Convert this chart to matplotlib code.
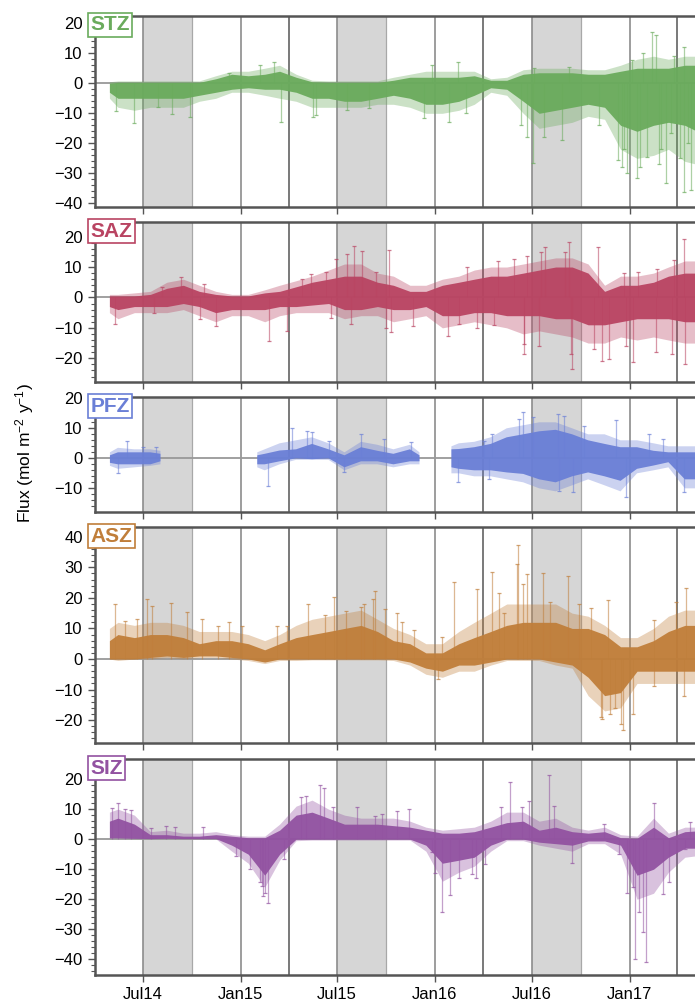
import matplotlib
matplotlib.use('Agg')
import matplotlib.pyplot as plt
import matplotlib.dates as mdates
from matplotlib.ticker import MultipleLocator
import numpy as np

plt.rcParams['font.family'] = ['Liberation Sans', 'DejaVu Sans']
plt.rcParams['mathtext.default'] = 'regular'

# shared monthly grid (mid-month), data start/end at the ends
months = ['2014-04-29', '2014-05-15', '2014-06-15', '2014-07-15', '2014-08-15', '2014-09-15',
          '2014-10-15', '2014-11-15', '2014-12-15', '2015-01-15', '2015-02-15', '2015-03-15',
          '2015-04-15', '2015-05-15', '2015-06-15', '2015-07-15', '2015-08-15', '2015-09-15',
          '2015-10-15', '2015-11-15', '2015-12-15', '2016-01-15', '2016-02-15', '2016-03-15',
          '2016-04-15', '2016-05-15', '2016-06-15', '2016-07-15', '2016-08-15', '2016-09-15',
          '2016-10-15', '2016-11-15', '2016-12-15', '2017-01-15', '2017-02-15', '2017-03-15',
          '2017-04-15', '2017-05-31']

# ---- STZ ----  core band (dense), outer band (sparser), and single spikes
stz_lo = [-3, -5, -5, -5, -5, -5, -4, -3, -2, -1.5, -2, -2, -3, -5, -5, -6, -6, -5, -4, -5,
          -7, -7, -6, -4, -1.5, -2, -6, -10, -9, -8, -7, -8, -14, -16, -14, -13, -14, -18]
stz_hi = [0, 0.3, 0.3, 0.3, 0.3, 0.3, 0.3, 1.5, 3, 2.5, 3, 4, 2, 0.5, 0.3, 0.3, 0.3, 0.3, 1, 2,
          2, 2, 2, 2.5, 1, 1, 3, 3.5, 3.5, 3.5, 3, 3, 4, 5, 5, 5, 6, 6]
stz_out_lo = [-5, -8, -9, -8, -8, -8, -6, -5, -3, -3, -4, -5, -6, -8, -8, -8, -8, -7, -7, -8,
              -10, -10, -9, -7, -3, -4, -10, -15, -14, -13, -11, -12, -22, -25, -24, -22, -26, -28]
stz_out_hi = [0.5, 0.8, 0.8, 0.8, 0.8, 0.8, 0.8, 2.5, 4, 4, 5, 6, 3, 1, 0.8, 0.8, 0.8, 0.8, 2, 3,
              4, 4, 4, 4, 1.5, 2, 4.5, 5, 5, 5, 4.5, 4.5, 6, 8, 9, 8, 9, 9]
stz_sp_dates = ['2014-05-12', '2014-06-15', '2014-07-29', '2014-08-24', '2014-09-28', '2014-12-10',
                '2015-02-07', '2015-03-04', '2015-03-18', '2015-05-16', '2015-05-23', '2015-07-20',
                '2015-08-30', '2015-12-12', '2015-12-27', '2016-01-27', '2016-02-13', '2016-02-28',
                '2016-06-11', '2016-06-23', '2016-07-03', '2016-07-05', '2016-07-25', '2016-08-27',
                '2016-09-10', '2016-11-05', '2016-12-10', '2016-12-18', '2016-12-22', '2016-12-28',
                '2017-01-05', '2017-01-14', '2017-01-20', '2017-01-26', '2017-02-02', '2017-02-12',
                '2017-02-20', '2017-02-25', '2017-03-01', '2017-03-10', '2017-03-20', '2017-03-25',
                '2017-04-05', '2017-04-14', '2017-04-14', '2017-04-20', '2017-04-26']
stz_sp_vals = [-9.1, -13.3, -8, -10.2, -11.3, 3.5,
               6, 7, -12.8, -11.3, -10.5, -8.9,
               -8.3, -11.7, 6.1, -12.8, 7.2, -10,
               -13.9, -17.8, -26.7, 5, -17.8, -18.9,
               5.5, -13.9, -25.6, -27.8, -22, -30,
               7.8, -31.7, -28, 10, -24.4, 17.2,
               16.1, -27, -22, -33.1, -16.7, 9,
               -25, -36.1, 12.2, -20, -35.6]

# ---- SAZ ----
saz_lo = [-3, -4, -3, -3, -3, -2, -3, -5, -4, -4, -4, -3, -3, -2.5, -2, -4, -4, -3, -4, -4,
          -3, -6, -6, -5, -5, -6, -6, -6, -7, -7, -9, -9, -8, -7, -7, -7, -8, -8]
saz_hi = [0.5, 0.5, 0.5, 1, 3, 4, 2, 1, 0.5, 0.5, 1.5, 2, 3.5, 5, 6, 7, 7, 5, 4, 2,
          2, 4, 5, 6, 7, 7, 8, 9, 10, 10, 8, 2, 4, 4, 5, 7, 8, 8]
saz_out_lo = [-5, -7, -5, -5, -5, -4, -6, -8, -6, -6, -8, -6, -5, -5, -5, -7, -6, -6, -8, -7,
              -6, -10, -9, -8, -9, -10, -12, -11, -12, -13, -15, -15, -13, -14, -13, -14, -15, -15]
saz_out_hi = [1, 1, 1.5, 2, 5, 6, 4, 2, 1, 1, 2.5, 4, 5.5, 7, 9, 11, 11, 8, 7, 4,
              4, 6, 7, 9, 10, 10, 11, 12, 13, 13, 11, 4, 7, 7, 8, 10, 12, 12]
saz_sp_dates = ['2014-05-09', '2014-07-22', '2014-08-05', '2014-09-11', '2014-10-16', '2014-10-23',
                '2014-11-16', '2015-02-23', '2015-03-28', '2015-04-27', '2015-05-13', '2015-06-10',
                '2015-06-19', '2015-06-29', '2015-07-20', '2015-07-27', '2015-08-02', '2015-08-17',
                '2015-09-12', '2015-10-01', '2015-10-06', '2015-10-11', '2015-11-20', '2016-01-25',
                '2016-02-16', '2016-03-02', '2016-03-21', '2016-04-22', '2016-04-28', '2016-05-29',
                '2016-06-16', '2016-06-17', '2016-06-23', '2016-07-15', '2016-07-18', '2016-07-26',
                '2016-09-02', '2016-09-10', '2016-09-12', '2016-09-14', '2016-10-27', '2016-11-02',
                '2016-11-10', '2016-11-24', '2016-12-22', '2016-12-25', '2017-01-07', '2017-01-16',
                '2017-02-19', '2017-02-22', '2017-03-22', '2017-03-25', '2017-04-13', '2017-04-16']
saz_sp_vals = [-8.8, -5, 3.3, 6.6, -7.1, 4.4,
               -9.3, -14.3, -11, 6, 7.7, 8.2,
               -6.6, 12.6, 14.3, -8.8, 17, 15.4,
               8.2, -9.9, 15.7, -11.5, -9.3, -12.6,
               -8.8, 9.9, -9.9, -9, 12.1, 12.6,
               -18.5, -15.4, 13.7, -15.9, 15, 16.5,
               15, 18.1, -18.5, -23.6, -17, 16.7,
               -20.9, -20.3, 8, -15.9, -21.1, 8.2,
               -18.1, 9.3, -18.7, 12.3, 19.2, -22]

# ---- PFZ (own grid, gaps marked with nan) ----
pfz_dates = ['2014-04-30', '2014-05-15', '2014-06-15', '2014-07-15', '2014-08-03', '2014-08-04',
             '2015-02-01', '2015-02-15', '2015-03-15', '2015-04-15', '2015-05-15', '2015-06-15',
             '2015-07-15', '2015-08-15', '2015-09-15', '2015-10-15', '2015-11-15', '2015-12-03',
             '2015-12-04',
             '2016-02-01', '2016-02-15', '2016-03-15', '2016-04-15', '2016-05-15', '2016-06-15',
             '2016-07-15', '2016-08-15', '2016-09-15', '2016-10-15', '2016-11-15', '2016-12-15',
             '2017-01-15', '2017-02-15', '2017-03-15', '2017-04-15', '2017-05-31']
pfz_lo = [-1.5, -2, -2, -2, -1, np.nan,
          -2, -2, -1, 0, -0.3, 0, -3, -1, -1, -2, -1, -1, np.nan,
          -3, -3.5, -4, -4, -4.7, -5.2, -7, -8, -6, -4.7, -6, -7.5, -3.5, -2.4, -1.3, -7, -7]
pfz_hi = [1, 2, 2, 2, 1.5, np.nan,
          1, 1.5, 2.6, 3, 4.8, 3, 1, 3.7, 2.5, 1.5, 3, 1, np.nan,
          3, 3.1, 3.7, 4.8, 7, 8, 9, 9.5, 8, 6, 4.8, 3.7, 3.7, 2.5, 2, 2, 2]
pfz_out_lo = [-2.5, -3.5, -3, -2.5, -2, np.nan,
              -3, -4, -2, -0.5, -0.5, -0.5, -4, -2, -2, -3, -2, -2, np.nan,
              -5, -5, -6, -6, -7, -8, -10, -11, -9, -7, -9, -11, -5, -4, -3, -10, -10]
pfz_out_hi = [2, 3.5, 3, 3, 2.5, np.nan,
              2, 3, 5, 6, 7, 5, 2, 5.5, 4.5, 3, 4.5, 2, np.nan,
              4, 5, 5.5, 7, 10, 11, 12, 12, 10, 8, 8, 6, 6, 5, 4, 4, 4]
pfz_sp_dates = ['2014-05-15', '2014-06-02', '2014-07-01', '2014-07-25', '2015-02-22', '2015-04-08',
                '2015-05-05', '2015-05-15', '2015-06-16', '2015-07-14', '2015-08-15', '2015-09-28',
                '2015-11-17', '2016-02-13', '2016-04-03', '2016-04-12', '2016-04-18', '2016-06-08',
                '2016-06-14', '2016-07-04', '2016-08-19', '2016-08-22', '2016-08-31', '2016-09-16',
                '2016-10-08', '2016-12-06', '2016-12-25', '2017-02-07', '2017-03-04', '2017-04-14']
pfz_sp_vals = [-4.9, 5.9, 3.7, 3.7, -9.1, 10.1,
               9.2, 8.6, 5.9, -4.7, 8.1, 6.4,
               5.3, -8, 5.9, -6.8, 8.1, 13.1,
               15.3, 13.7, 14.6, -10.8, 14.2, -11.3,
               10.9, 12.6, -13, 8.1, 6.4, -11.3]

# ---- ASZ ----
asz_lo = [0, 0, 0, 0.5, 1, 0.5, 1, 1, 0.5, 0, -1, 0, 0, 0, 0, 0, 0, 0, 0, -1,
          -3, -4, -2, -2, -1, 0, 0, 0, -1, -2, -6, -12, -11, -4, -4, -4, -4, -4]
asz_hi = [6, 8, 7, 8, 8, 7, 5, 6, 6, 5, 3, 5, 7, 8, 9, 10, 11, 9, 6, 5,
          2, 2, 5, 7, 9, 11, 12, 12, 12, 10, 10, 8, 4, 4, 6, 9, 11, 11]
asz_out_lo = [0, -0.5, 0, 0, 0.5, 0, 0.5, 0.5, 0, -0.5, -1.5, -0.5, -0.5, -0.3, -0.3, -0.3, -0.3,
              -0.3, -0.5, -2, -5, -6, -4, -4, -2, -0.5, -0.5, -0.5, -2, -3, -12, -17, -16, -8,
              -8, -8, -8, -8]
asz_out_hi = [10, 12, 11, 12, 12, 11, 9, 9, 9, 8, 6, 8, 11, 13, 14, 15, 16, 13, 10, 8,
              5, 5, 9, 12, 15, 18, 18, 18, 18, 15, 14, 11, 7, 7, 10, 14, 16, 16]
asz_sp_dates = ['2014-05-10', '2014-05-28', '2014-06-19', '2014-07-09', '2014-07-18', '2014-08-23',
                '2014-09-21', '2014-10-20', '2014-11-19', '2014-12-10', '2015-01-04', '2015-03-10',
                '2015-03-28', '2015-05-08', '2015-06-09', '2015-06-26', '2015-07-18', '2015-08-15',
                '2015-08-20', '2015-09-06', '2015-09-11', '2015-09-29', '2015-10-21', '2015-11-01',
                '2015-11-23', '2016-01-06', '2016-01-15', '2016-02-05', '2016-03-21', '2016-04-18',
                '2016-04-30', '2016-05-10', '2016-06-04', '2016-06-06', '2016-06-15', '2016-06-23',
                '2016-07-23', '2016-08-05', '2016-09-08', '2016-09-28', '2016-10-20', '2016-11-08',
                '2016-11-11', '2016-11-21', '2016-11-25', '2016-12-05', '2016-12-16', '2016-12-19',
                '2017-01-07', '2017-02-16', '2017-02-16', '2017-03-29', '2017-04-14', '2017-04-17']
asz_sp_vals = [17.9, 12.5, 13, 19.8, 17.4, 18.3,
               15.4, 13, 10.7, 12, 10.9, 10.9,
               10.9, 17.9, 14.3, 20.4, 15.8, 16.9,
               17.9, 19.5, 22.3, 16.5, 15, 12,
               9.6, -6.5, 7.1, 25.2, 23, 28.5,
               21.7, 15, 31, 37.2, 24.5, 27.7,
               28.3, 18.5, 27.2, 17.9, 16.8, -19,
               -19.6, 19.3, -18, -16, -21.2, -23.4,
               -17.9, 12.8, -8.7, 18.5, -12, 23.4]

# ---- SIZ ----
siz_lo = [0.5, 0.5, 0.3, 0.2, 0.3, 0.2, 0.2, 0.2, -2, -5, -12, -5, 0, 0, 0, 0, 0, 0, 0, 0,
          -2, -8, -7, -6, -2, 0, 0, -1, -1.5, -2, -0.6, -0.6, -2, -12, -10, -6, -3, -3]
siz_hi = [6, 7, 5, 1.5, 1.5, 1, 1, 1.5, 1, 0.5, 0.5, 3, 8, 9, 7, 5, 5, 5, 4.5, 4,
          3, 2, 2, 2.5, 4, 5.5, 6, 3, 4, 2.5, 2, 2.5, 0.5, 0.3, 4, 0.5, 2.5, 3]
siz_out_lo = [0.3, 0.3, 0.2, 0.1, 0.2, 0.1, 0.1, 0.1, -4, -8, -16, -7, -0.5, -0.3, -0.3, -0.3,
              -0.3, -0.3, -0.3, -0.3, -4, -14, -11, -9, -4, -0.5, -0.5, -2, -3, -4, -1.5, -1.5,
              -5, -20, -18, -11, -6, -5]
siz_out_hi = [9, 10, 8, 2.5, 3, 2, 2, 2.5, 1.5, 1, 1, 5, 11, 13, 10, 8, 7, 7, 7, 6,
              4, 3, 3.5, 4, 6, 9, 9, 6, 7, 4, 3, 4, 1.5, 1, 7, 2, 4, 4]
siz_sp_dates = ['2014-05-03', '2014-05-16', '2014-05-29', '2014-06-09', '2014-07-17', '2014-08-13',
                '2014-08-30', '2014-10-22', '2014-12-23', '2015-01-18', '2015-02-07', '2015-02-10',
                '2015-02-12', '2015-02-16', '2015-02-21', '2015-03-23', '2015-04-25', '2015-05-04',
                '2015-05-29', '2015-06-06', '2015-06-23', '2015-08-07', '2015-09-11', '2015-09-23',
                '2015-10-22', '2015-11-13', '2015-12-27', '2016-01-02', '2016-01-14', '2016-01-30',
                '2016-02-15', '2016-03-11', '2016-03-18', '2016-04-05', '2016-05-05', '2016-05-21',
                '2016-06-13', '2016-06-25', '2016-08-03', '2016-08-11', '2016-09-15', '2016-11-13',
                '2016-12-12', '2016-12-27', '2017-01-07', '2017-01-12', '2017-01-18', '2017-01-27',
                '2017-01-31', '2017-02-15', '2017-03-04', '2017-03-17', '2017-04-16', '2017-04-25']
siz_sp_vals = [10.3, 12.2, 10, 9.6, 3.7, 4.4,
               4, 4.2, -5.6, -10, -14.4, -15.6,
               -18.9, -18, -21.3, -6.7, 13.9, 14.4,
               18, 17.2, 10.6, 10.8, 7.8, 8.3,
               9.4, 10, -4.4, -11.1, -24.1, -18.7,
               -12.8, -11.7, -12.8, -8.3, 10.6, 18.9,
               10.6, 12.8, 21.3, 11, -7.8, 5,
               -5, -17.8, -15.8, -40, -24.4, -31,
               -41, 12.2, -18.3, -14.4, -3.3, 5.6]

panels = [
    ('STZ', '#6aab5c', months, stz_lo, stz_hi, stz_out_lo, stz_out_hi, stz_sp_dates, stz_sp_vals,
     (-41.1, 22.4)),
    ('SAZ', '#b94462', months, saz_lo, saz_hi, saz_out_lo, saz_out_hi, saz_sp_dates, saz_sp_vals,
     (-27.7, 24.7)),
    ('PFZ', '#6a7fd6', pfz_dates, pfz_lo, pfz_hi, pfz_out_lo, pfz_out_hi, pfz_sp_dates, pfz_sp_vals,
     (-17.9, 20.3)),
    ('ASZ', '#c07e3a', months, asz_lo, asz_hi, asz_out_lo, asz_out_hi, asz_sp_dates, asz_sp_vals,
     (-27.6, 43.1)),
    ('SIZ', '#9252a1', months, siz_lo, siz_hi, siz_out_lo, siz_out_hi, siz_sp_dates, siz_sp_vals,
     (-45.2, 26.6)),
]

# axes boxes in figure fractions (bottom, height)
boxes = [(0.7943, 0.1898), (0.6202, 0.1586), (0.4905, 0.1141), (0.2604, 0.2149), (0.0299, 0.2146)]

winters = [('2014-07-01', '2014-10-01'), ('2015-07-01', '2015-10-01'), ('2016-07-01', '2016-10-01')]
jan_jul = ['2014-07-01', '2015-01-01', '2015-07-01', '2016-01-01', '2016-07-01', '2017-01-01']
aprs = ['2015-04-01', '2016-04-01', '2017-04-01']
octs = ['2014-10-01', '2015-10-01', '2016-10-01']

fig = plt.figure(figsize=(6.95, 10.05), dpi=100)
xmin, xmax = np.datetime64('2014-04-01'), np.datetime64('2017-06-20')

for i, (name, color, d, lo, hi, olo, ohi, spd, spv, ylim) in enumerate(panels):
    b, h = boxes[i]
    ax = fig.add_axes([0.136, b, 0.90, h])
    d = np.array(d, dtype='datetime64[D]')
    spd = np.array(spd, dtype='datetime64[D]')

    for s, e in winters:
        ax.axvspan(np.datetime64(s), np.datetime64(e), color='#d6d6d6', lw=0, zorder=0)
    for t in jan_jul:
        ax.axvline(np.datetime64(t), color='#8c8c8c', lw=1.2, zorder=0.5)
    for t in aprs:
        ax.axvline(np.datetime64(t), color='#555555', lw=1.1, zorder=0.5)
    for t in octs:
        ax.axvline(np.datetime64(t), color='#a8a8a8', lw=0.9, zorder=0.5)
    ax.axhline(0, color='#999999', lw=1.3, zorder=1)

    ax.vlines(spd, 0, spv, color=color, lw=0.9, alpha=0.55, zorder=2)
    ax.plot(spd, spv, ls='none', marker='_', ms=3.5, mew=0.9, color=color, alpha=0.7, zorder=2)
    ax.fill_between(d, olo, ohi, color=color, lw=0, alpha=0.35, zorder=2.5)
    ax.fill_between(d, lo, hi, color=color, lw=0, alpha=0.95, zorder=3)

    ax.set_xlim(xmin, xmax)
    ax.set_ylim(*ylim)
    ax.yaxis.set_major_locator(MultipleLocator(10))
    ax.yaxis.set_minor_locator(MultipleLocator(2))
    ax.xaxis.set_major_locator(mdates.MonthLocator(bymonth=[1, 7]))
    ax.xaxis.set_major_formatter(mdates.DateFormatter('%b%y'))
    ax.tick_params(axis='both', which='major', direction='out', length=5, width=1,
                   color='#555555', labelsize=12)
    ax.tick_params(axis='y', which='minor', direction='out', length=3, width=0.8, color='#555555')
    if i < len(panels) - 1:
        ax.tick_params(axis='x', labelbottom=False)
    for side in ['left', 'top', 'bottom']:
        ax.spines[side].set_color('#555555')
        ax.spines[side].set_linewidth(1.8)
    ax.spines['right'].set_visible(False)

    ax.annotate(name, xy=(0, 1), xycoords='axes fraction', xytext=(-3, 0.5),
                textcoords='offset points', ha='left', va='top', fontsize=15,
                fontweight='bold', color=color, zorder=10, annotation_clip=False,
                bbox=dict(boxstyle='square,pad=0.12', fc='white', ec=color, lw=1.2))

fig.text(0.036, 0.549, 'Flux (mol m$^{-2}$ y$^{-1}$)', rotation=90, ha='center', va='center',
         fontsize=12.5)

fig.savefig('out.png', dpi=100)
